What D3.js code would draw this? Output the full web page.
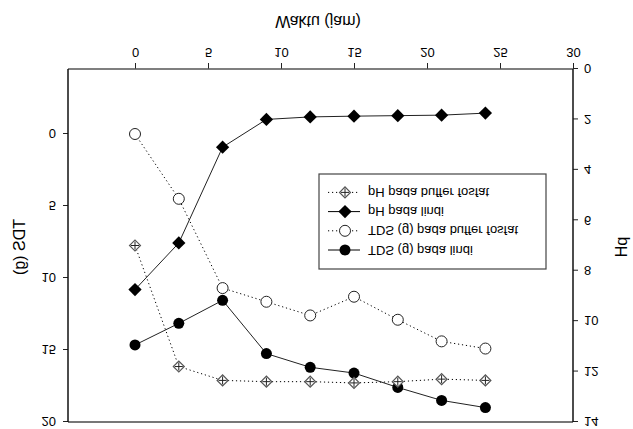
<!DOCTYPE html>
<html>
<head>
<meta charset="utf-8">
<script src="https://cdn.jsdelivr.net/npm/d3@7"></script>
<style>
body { margin: 0; background: #fff; }
text { font-family: "Liberation Sans", Arial, sans-serif; fill: #000; }
</style>
</head>
<body>
<svg id="chart" width="633" height="429"></svg>
<script>
const waktu = [0, 3, 6, 9, 12, 15, 18, 21, 24]
const phBuffer = [7.0, 11.8, 12.35, 12.4, 12.4, 12.45, 12.4, 12.3, 12.35]
const phLindi = [8.75, 6.9, 3.1, 2.0, 1.9, 1.87, 1.85, 1.83, 1.75]
const tdsBuffer = [0, 4.5, 10.7, 11.65, 12.6, 11.3, 12.9, 14.4, 14.9]
const tdsLindi = [14.65, 13.15, 11.55, 15.25, 16.2, 16.6, 17.6, 18.5, 19.0]
const xTicks = [0, 5, 10, 15, 20, 25, 30]
const tdsTicks = [0, 5, 10, 15, 20]
const phTicks = [0, 2, 4, 6, 8, 10, 12, 14]
const legendLabels = ["TDS (g) pada lindi", "TDS (g) pada buffer fosfat", "pH pada lindi", "pH pada buffer fosfat"]

const W = 633, H = 429
const svg = d3.select("#chart")
// the whole picture is mirrored top to bottom, so draw normally and flip
const g = svg.append("g").attr("transform", `translate(0,${H}) scale(1,-1)`)

const plotLeft = 68, plotRight = 573, plotTop = 7, plotBottom = 360

const x = d3.scaleLinear().domain([0, 30]).range([135, 573])
const yTds = d3.scaleLinear().domain([0, 20]).range([295, 7])
const yPh = d3.scaleLinear().domain([0, 14]).range([360, 7])

// axes
let xAxis = g.append("g").attr("transform", `translate(0,${plotBottom})`)
    .call(d3.axisBottom(x).tickValues(xTicks).tickSize(6).tickPadding(6))
let tdsAxis = g.append("g").attr("transform", `translate(${plotLeft},0)`)
    .call(d3.axisLeft(yTds).tickValues(tdsTicks).tickSize(5).tickPadding(7))
let phAxis = g.append("g").attr("transform", `translate(${plotRight},0)`)
    .call(d3.axisRight(yPh).tickValues(phTicks).tickSize(5).tickPadding(6))
;[xAxis, tdsAxis, phAxis].forEach(a => {
    a.select(".domain").remove()
    a.selectAll("text").style("font-size", "13px").style("font-family", "'Liberation Sans', Arial, sans-serif")
    a.selectAll("line").attr("stroke", "#222")
})

// frame
g.append("line").attr("x1", plotLeft).attr("x2", plotRight).attr("y1", plotBottom).attr("y2", plotBottom).attr("stroke", "#555").attr("stroke-width", 1.5)
g.append("line").attr("x1", plotLeft).attr("x2", plotRight).attr("y1", plotTop).attr("y2", plotTop).attr("stroke", "#777").attr("stroke-width", 2)
g.append("line").attr("x1", plotLeft).attr("x2", plotLeft).attr("y1", plotTop).attr("y2", plotBottom).attr("stroke", "#111").attr("stroke-width", 1.5)
g.append("line").attr("x1", plotRight).attr("x2", plotRight).attr("y1", plotTop).attr("y2", plotBottom).attr("stroke", "#111").attr("stroke-width", 1.5)

// titles
g.append("text").attr("x", 318).attr("y", 413).attr("text-anchor", "middle")
    .style("font-size", "16px").text("Waktu (jam)")
g.append("text").attr("transform", "translate(25,182) rotate(-90)").attr("text-anchor", "middle")
    .style("font-size", "16px").text("TDS (g)")
g.append("text").attr("transform", "translate(627,182) rotate(-90)").attr("text-anchor", "middle")
    .style("font-size", "16px").text("pH")

// markers
const diamond = d3.symbol().type(d3.symbolSquare)
function drawMarker(sel, kind) {
    if (kind == "circleFill") {
        sel.append("circle").attr("r", 5.5).attr("fill", "#000")
    } else if (kind == "circleOpen") {
        sel.append("circle").attr("r", 5.5).attr("fill", "#fff").attr("stroke", "#222").attr("stroke-width", 1)
    } else if (kind == "diamondFill") {
        sel.append("path").attr("d", diamond.size(88)()).attr("transform", "rotate(45)").attr("fill", "#000")
    } else {
        sel.append("path").attr("d", diamond.size(60)()).attr("transform", "rotate(45)")
            .attr("fill", "#fff").attr("stroke", "#555").attr("stroke-width", 1.2)
        sel.append("line").attr("x1", -4).attr("x2", 4).attr("stroke", "#222")
        sel.append("line").attr("y1", -4).attr("y2", 4).attr("stroke", "#222")
    }
}

const series = [
    { values: tdsLindi, y: yTds, dash: null, marker: "circleFill" },
    { values: tdsBuffer, y: yTds, dash: "1.2,2.8", marker: "circleOpen" },
    { values: phLindi, y: yPh, dash: null, marker: "diamondFill" },
    { values: phBuffer, y: yPh, dash: "1.2,2.8", marker: "diamondOpen" }
]

series.forEach((s) => {
    let line = d3.line().x((d, i) => x(waktu[i])).y(d => s.y(d))
    g.append("path").datum(s.values).attr("d", line).attr("fill", "none")
        .attr("stroke", s.dash ? "#000" : "#222").attr("stroke-width", 1)
        .attr("stroke-dasharray", s.dash)
})
series.forEach((s) => {
    s.values.forEach((v, i) => {
        let m = g.append("g").attr("transform", `translate(${x(waktu[i])},${s.y(v)})`)
        drawMarker(m, s.marker)
    })
})

// legend
let lg = g.append("g")
lg.append("rect").attr("x", 319).attr("y", 160).attr("width", 227).attr("height", 95)
    .attr("fill", "#fff").attr("stroke", "#444").attr("stroke-width", 1.2)
series.forEach((s, i) => {
    let ly = 179 + i * 19.2
    lg.append("line").attr("x1", 328).attr("x2", 360).attr("y1", ly).attr("y2", ly)
        .attr("stroke", "#000").attr("stroke-width", 1).attr("stroke-dasharray", s.dash)
    let m = lg.append("g").attr("transform", `translate(345,${ly})`)
    drawMarker(m, s.marker)
    lg.append("text").attr("x", 368).attr("y", ly + 4.5).style("font-size", "13px").text(legendLabels[i])
})
</script>
</body>
</html>
